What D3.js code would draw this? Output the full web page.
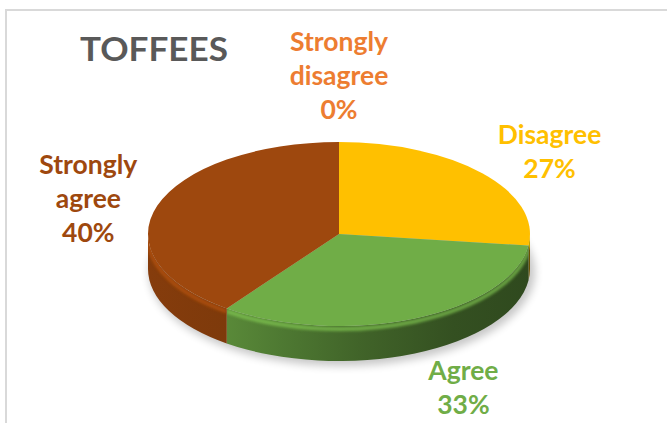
<!DOCTYPE html>
<html>
<head>
<meta charset="utf-8">
<script src="https://cdn.jsdelivr.net/npm/d3@7"></script>
<style>
html, body { margin: 0; padding: 0; background: #fff; overflow: hidden; }
text { font-family: Lato, "Open Sans", sans-serif; font-weight: bold; }
</style>
</head>
<body>
<div id="chart"></div>
<script>
// Answers to the toffees question, in percent
var categories = ["Strongly disagree", "Disagree", "Agree", "Strongly agree"];
var values = [0, 27, 33, 40];
var colors = ["#ED7D31", "#FFC000", "#70AD47", "#9E480E"];
var title = "TOFFEES";

var width = 667, height = 423;

// Ellipse of the pie top and thickness of the disc
var cx = 339, cy = 234, rx = 191, ry = 92, depth = 35;

// Where each label sits, as a multiple of the radius along the slice middle
var labelRadius = [[1, 1.72], [1.47, 1.35], [1.64, 1.40], [1.38, 1.25]];

var svg = d3.select("#chart").append("svg")
	.attr("width", width)
	.attr("height", height);

var defs = svg.append("defs");

defs.append("filter").attr("id", "shadow")
	.attr("x", "-20%").attr("y", "-20%").attr("width", "140%").attr("height", "140%")
	.append("feGaussianBlur").attr("stdDeviation", 4);

defs.append("filter").attr("id", "soft")
	.append("feGaussianBlur").attr("stdDeviation", 1.6);

// Chart frame (only top and left edges are inside the picture)
svg.append("rect")
	.attr("x", 6).attr("y", 10)
	.attr("width", width + 20).attr("height", height + 20)
	.attr("fill", "#fff")
	.attr("stroke", "#d9d9d9")
	.attr("stroke-width", 2);

var pie = d3.pie().sort(null).value(d => d);
var arcs = pie(values);

// point on the ellipse at angle a (0 = 12 o'clock, clockwise)
function pt(a, k, dy) {
	k = k || 1;
	dy = dy || 0;
	return [cx + rx * k * Math.sin(a), cy - ry * k * Math.cos(a) + dy];
}

// Soft shadow under the disc
svg.append("ellipse")
	.attr("cx", cx + 3)
	.attr("cy", cy + depth + 3)
	.attr("rx", rx + 2)
	.attr("ry", ry + 2)
	.attr("fill", "#000")
	.attr("opacity", 0.22)
	.attr("filter", "url(#shadow)");

// Horizontal shading of the side wall
var shade = [[0, 0.84], [0.2, 0.8], [0.35, 0.7], [0.55, 0.58], [0.8, 0.46], [1, 0.42]];
arcs.forEach(function(d, i) {
	var base = d3.rgb(colors[i]);
	var g = defs.append("linearGradient")
		.attr("id", "side" + i)
		.attr("gradientUnits", "userSpaceOnUse")
		.attr("x1", cx - rx).attr("x2", cx + rx)
		.attr("y1", 0).attr("y2", 0);
	shade.forEach(function(s) {
		g.append("stop")
			.attr("offset", s[0])
			.attr("stop-color", d3.rgb(base.r * s[1], base.g * s[1], base.b * s[1]).formatHex());
	});
});

// Side wall, only the front half (90deg to 270deg) shows
var sides = svg.append("g").attr("class", "sides");
arcs.forEach(function(d, i) {
	var b0 = Math.max(d.startAngle, Math.PI / 2);
	var b1 = Math.min(d.endAngle, 3 * Math.PI / 2);
	if (b1 <= b0) return;
	var p0 = pt(b0), p1 = pt(b1), q0 = pt(b0, 1, depth), q1 = pt(b1, 1, depth);
	var path = "M" + p0 + "A" + rx + "," + ry + " 0 0 1 " + p1 +
		"L" + q1 + "A" + rx + "," + ry + " 0 0 0 " + q0 + "Z";

	defs.append("clipPath").attr("id", "clip" + i)
		.append("path").attr("d", path);

	sides.append("path")
		.attr("d", path)
		.attr("fill", "url(#side" + i + ")");

	// light bevel just under the top rim
	var h0 = pt(b0, 1, 3), h1 = pt(b1, 1, 3);
	sides.append("path")
		.attr("d", "M" + h0 + "A" + rx + "," + ry + " 0 0 1 " + h1)
		.attr("fill", "none")
		.attr("stroke", d3.color(colors[i]).brighter(0.5))
		.attr("stroke-width", 4)
		.attr("opacity", 0.7)
		.attr("filter", "url(#soft)")
		.attr("clip-path", "url(#clip" + i + ")");
});

// Top face of each slice
svg.append("g").attr("class", "tops")
	.selectAll("path")
	.data(arcs.filter(d => d.endAngle > d.startAngle))
	.enter().append("path")
	.attr("d", function(d) {
		var large = (d.endAngle - d.startAngle) > Math.PI ? 1 : 0;
		return "M" + cx + "," + cy + "L" + pt(d.startAngle) +
			"A" + rx + "," + ry + " 0 " + large + " 1 " + pt(d.endAngle) + "Z";
	})
	.attr("fill", d => colors[d.index]);

// Data labels: category name (wrapped) and percentage
var total = d3.sum(values);
var lineH = 34;
var labels = svg.append("g").attr("class", "labels")
	.selectAll("text")
	.data(arcs)
	.enter().append("text")
	.attr("text-anchor", "middle")
	.attr("font-size", "26.5px")
	.attr("fill", d => colors[d.index]);

labels.each(function(d) {
	var i = d.index;
	var mid = (d.startAngle + d.endAngle) / 2;
	var lines = categories[i].split(" ");
	lines.push(Math.round(values[i] / total * 100) + "%");
	var x = cx + rx * labelRadius[i][0] * Math.sin(mid);
	var y = cy - ry * labelRadius[i][1] * Math.cos(mid) + (Math.cos(mid) < 0 ? depth : 0);
	var y0 = y - (lines.length - 1) * lineH / 2 + 9.5;
	d3.select(this).selectAll("tspan")
		.data(lines)
		.enter().append("tspan")
		.attr("x", x)
		.attr("y", (t, j) => y0 + j * lineH)
		.text(t => t);
});

// Chart title
svg.append("text")
	.attr("x", 80)
	.attr("y", 61)
	.attr("font-size", "32.5px")
	.attr("fill", "#595959")
	.attr("textLength", 148)
	.attr("lengthAdjust", "spacingAndGlyphs")
	.text(title);
</script>
</body>
</html>
